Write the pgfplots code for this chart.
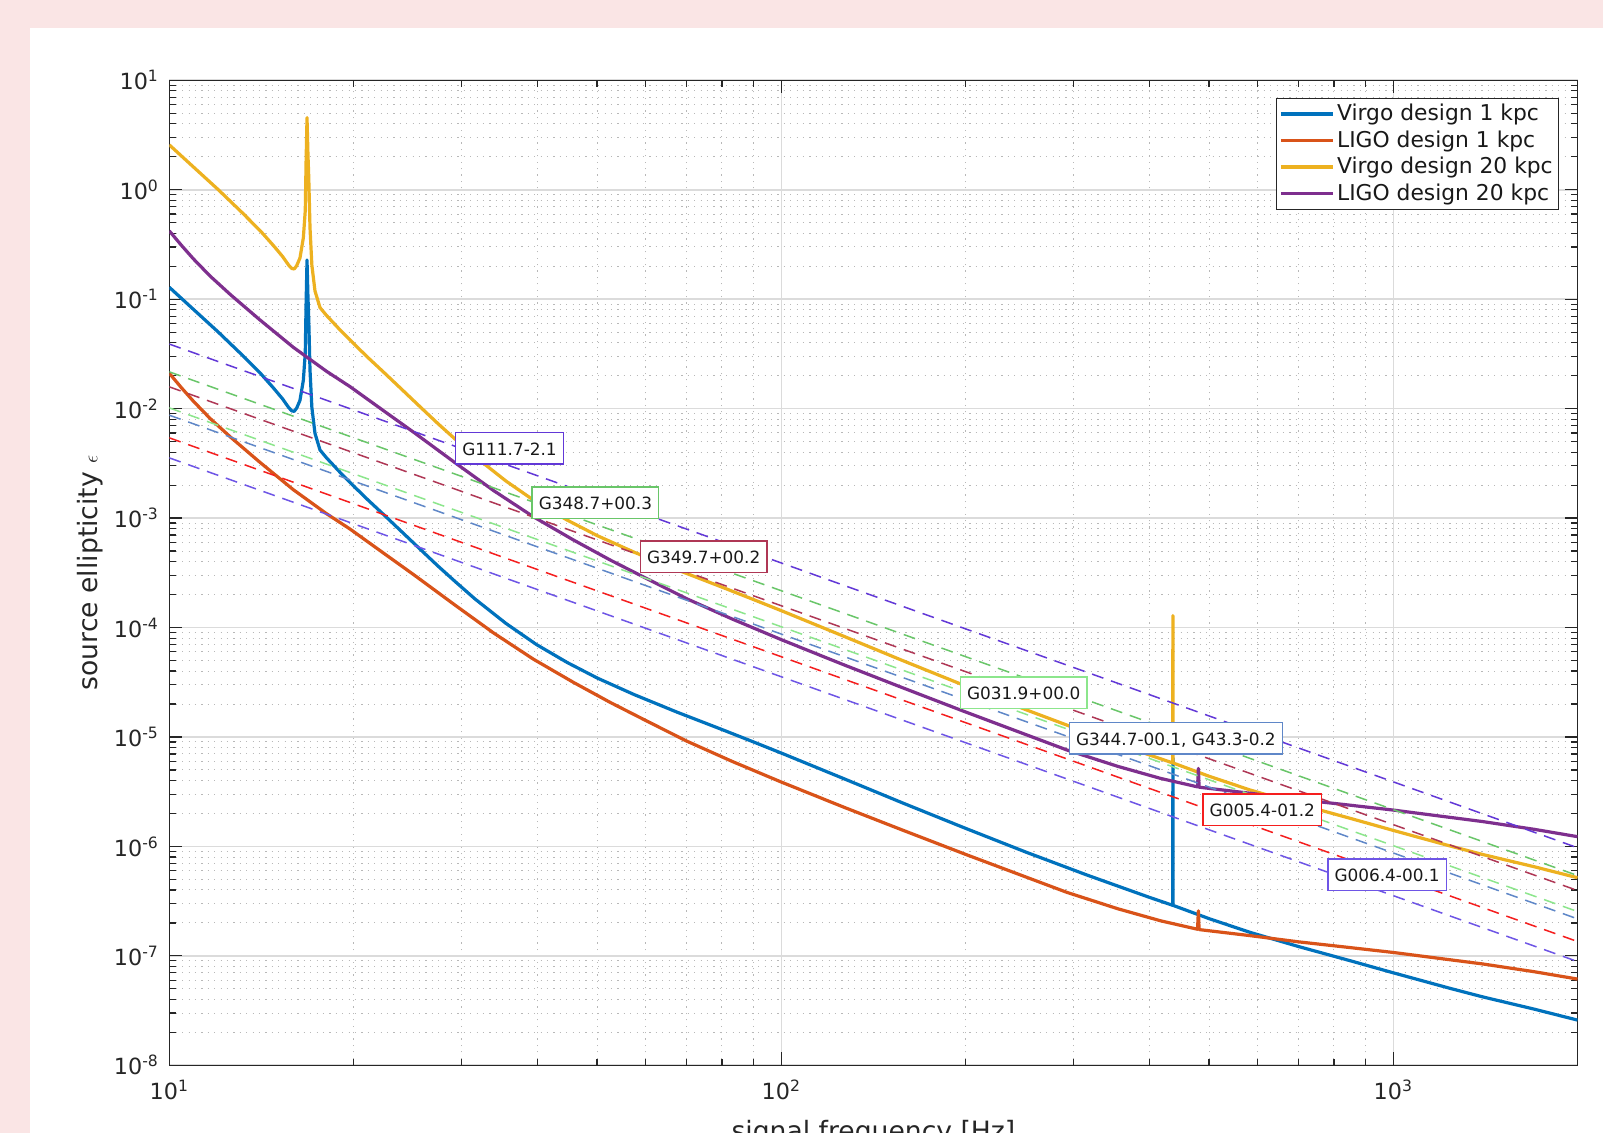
\documentclass[border=0pt]{standalone}
\usepackage{pgfplots}
\pgfplotsset{compat=1.18}
\usepackage{fontspec}
\setmainfont{DejaVu Sans}
\definecolor{bgpink}{RGB}{250,229,229}
\definecolor{mblue}{RGB}{0,114,189}
\definecolor{morange}{RGB}{217,83,25}
\definecolor{myellow}{RGB}{237,177,32}
\definecolor{mpurple}{RGB}{126,47,142}
\definecolor{dviolet}{RGB}{98,56,215}
\definecolor{dgreen}{RGB}{105,198,105}
\definecolor{dmaroon}{RGB}{175,55,85}
\definecolor{dlgreen}{RGB}{140,230,140}
\definecolor{dsteel}{RGB}{95,135,200}
\definecolor{dred}{RGB}{245,30,30}
\definecolor{dviolettwo}{RGB}{110,85,230}
\newcommand{\sups}[1]{\textsuperscript{#1}}
\tikzset{lbl/.style={fill=white, line width=0.75pt, font=\fontsize{8.45}{10}\selectfont,
  text height=7.65pt, text depth=0.8pt, inner xsep=3.3pt, inner ysep=3.7pt, text=black!90},
  dsh/.style={line width=0.75pt, dash pattern=on 6pt off 4pt}}
\begin{document}
\begin{tikzpicture}
\fill[bgpink] (0,0) rectangle (801.5pt,566.5pt);
\fill[white] (15pt,0) rectangle (801.5pt,552.5pt);
\begin{axis}[
  at={(84.65pt,33.85pt)}, anchor=south west,
  scale only axis, width=704.1pt, height=492.5pt,
  xmode=log, ymode=log,
  xmin=10, xmax=2000, ymin=1e-8, ymax=10,
  xtick={10,100,1000},
  xticklabels={10\sups{1},10\sups{2},10\sups{3}},
  minor xtick={20,30,40,50,60,70,80,90,200,300,400,500,600,700,800,900,2000},
  ytick={1e-8,1e-7,1e-6,1e-5,1e-4,1e-3,1e-2,1e-1,1,10},
  yticklabels={10\sups{-8},10\sups{-7},10\sups{-6},10\sups{-5},10\sups{-4},10\sups{-3},10\sups{-2},10\sups{-1},10\sups{0},10\sups{1}},
  minor ytick={2e-8,3e-8,4e-8,5e-8,6e-8,7e-8,8e-8,9e-8,
               2e-7,3e-7,4e-7,5e-7,6e-7,7e-7,8e-7,9e-7,
               2e-6,3e-6,4e-6,5e-6,6e-6,7e-6,8e-6,9e-6,
               2e-5,3e-5,4e-5,5e-5,6e-5,7e-5,8e-5,9e-5,
               2e-4,3e-4,4e-4,5e-4,6e-4,7e-4,8e-4,9e-4,
               2e-3,3e-3,4e-3,5e-3,6e-3,7e-3,8e-3,9e-3,
               2e-2,3e-2,4e-2,5e-2,6e-2,7e-2,8e-2,9e-2,
               2e-1,3e-1,4e-1,5e-1,6e-1,7e-1,8e-1,9e-1,
               2,3,4,5,6,7,8,9},
  grid=both,
  major grid style={black!14, line width=0.8pt},
  minor grid style={black!28, line width=0.5pt, dash pattern=on 0.6pt off 2.6pt},
  tick align=inside,
  major tick length=6.5pt, minor tick length=3.2pt,
  every tick/.style={black!85, line width=0.6pt},
  axis line style={black!85, line width=0.75pt},
  ticklabel style={font=\fontsize{11.15}{13}\selectfont, text=black!85},
  yticklabel style={inner sep=0pt, xshift=-5pt},
  xticklabel style={inner sep=0pt, yshift=-7.35pt},
  xlabel={signal frequency [Hz]},
  ylabel={source ellipticity {\fontsize{10}{10}\selectfont$\epsilon$}},
  label style={font=\fontsize{13.3}{15}\selectfont, text=black!85},
  xlabel style={at={(axis description cs:0.5,-0.05553)}, anchor=north, inner sep=0pt},
  ylabel style={at={(axis description cs:-0.05631,0.5)}, anchor=center, inner sep=0pt},
  legend style={at={(1,1)}, anchor=north east, xshift=-9.1pt, yshift=-8.7pt,
    draw=black!85, line width=0.6pt, fill=white,
    font=\fontsize{10.9}{12}\selectfont, text=black!90,
    inner xsep=1.5pt, inner ysep=1.5pt, row sep=0.43pt,
    nodes={inner xsep=1.5pt, inner ysep=1.5pt}},
  legend cell align=left,
  legend image code/.code={\draw[#1] (0pt,0pt) -- (25.8pt,0pt);},
]
% Virgo design 1 kpc
\addplot[mblue, line width=1.6pt, line join=round] coordinates {
(10,0.1285) (10.96,8.035e-2) (12.02,5.012e-2) (13.18,3.055e-2) (14.13,2.065e-2)
(14.79,1.549e-2) (15.31,1.230e-2) (15.67,1.023e-2) (15.85,9.550e-3) (16.0,9.441e-3)
(16.15,1.012e-2) (16.35,1.189e-2) (16.56,1.820e-2) (16.68,3.236e-2) (16.73,8.913e-2)
(16.79,0.2280) (16.85,0.1047) (16.9,6.457e-2) (16.98,2.254e-2) (17.1,1.023e-2)
(17.3,5.943e-3) (17.63,4.188e-3) (18.07,3.548e-3) (19.01,2.618e-3) (20.23,1.849e-3)
(21.13,1.459e-3) (22.4,1.076e-3) (24,7.464e-4) (25.7,5.188e-4) (27.5,3.631e-4)
(29.4,2.594e-4) (31.6,1.820e-4) (35.5,1.089e-4) (39.8,6.998e-5) (44.7,4.786e-5)
(50.1,3.443e-5) (57.5,2.438e-5) (67.6,1.683e-5) (79.4,1.189e-5) (89.1,9.226e-6)
(100,7.129e-6) (126,4.198e-6) (158.5,2.472e-6) (199.5,1.472e-6) (251,8.872e-7)
(316,5.470e-7) (398,3.451e-7) (436.0,2.897e-7) (436.4,6.43e-6) (436.8,2.891e-7)
(500,2.188e-7) (583,1.641e-7) (700,1.217e-7) (851,9.016e-8) (1000,6.998e-8)
(1240,5.035e-8) (1400,4.217e-8) (1700,3.258e-8) (2000,2.588e-8)};
\addlegendentry{Virgo design 1 kpc}
% LIGO design 1 kpc
\addplot[morange, line width=1.6pt, line join=round] coordinates {
(10,2.104e-2) (10.47,1.549e-2) (10.96,1.161e-2) (11.66,8.128e-3) (12.59,5.495e-3)
(14.06,3.236e-3) (15.94,1.820e-3) (18.07,1.096e-3) (19.74,7.943e-4) (22.39,4.786e-4)
(25.12,3.020e-4) (29.38,1.585e-4) (33.88,8.913e-5) (39.35,5.140e-5) (45.71,3.162e-5)
(52.48,2.075e-5) (60.26,1.400e-5) (70.07,9.162e-6) (83.18,5.970e-6) (100,3.873e-6)
(125.9,2.307e-6) (156.3,1.439e-6) (199.5,8.511e-7) (292.9,3.802e-7) (354.8,2.692e-7)
(416.9,2.089e-7) (478.8,1.750e-7) (480.3,2.582e-7) (481.6,1.738e-7) (583,1.531e-7)
(700,1.343e-7) (851,1.189e-7) (1000,1.074e-7) (1200,9.419e-8) (1400,8.433e-8)
(1700,7.161e-8) (2000,6.138e-8)};
\addlegendentry{LIGO design 1 kpc}
% Virgo design 20 kpc
\addplot[myellow, line width=1.6pt, line join=round] coordinates {
(10,2.570) (10.96,1.607) (12.02,1.0024) (13.18,0.611) (14.13,0.413)
(14.79,0.3098) (15.31,0.246) (15.67,0.2046) (15.85,0.191) (16.0,0.18882)
(16.15,0.2024) (16.35,0.2378) (16.56,0.364) (16.68,0.6472) (16.73,1.7826)
(16.79,4.56) (16.85,2.094) (16.9,1.2914) (16.98,0.4508) (17.1,0.2046)
(17.3,0.11886) (17.63,0.08376) (18.07,0.07096) (19.01,0.05236) (20.23,0.03698)
(21.13,0.02918) (22.4,0.02152) (24,0.014928) (25.7,0.010376) (27.5,7.262e-3)
(29.4,5.188e-3) (31.6,3.640e-3) (35.5,2.178e-3) (39.8,1.3996e-3) (44.7,9.572e-4)
(50.1,6.886e-4) (57.5,4.876e-4) (67.6,3.366e-4) (79.4,2.378e-4) (89.1,1.8452e-4)
(100,1.4258e-4) (126,8.396e-5) (158.5,4.944e-5) (199.5,2.944e-5) (251,1.7744e-5)
(316,1.094e-5) (398,6.902e-6) (436.0,5.794e-6) (436.4,1.286e-4) (436.8,5.782e-6)
(500,4.376e-6) (583,3.282e-6) (700,2.434e-6) (851,1.8032e-6) (1000,1.3996e-6)
(1240,1.007e-6) (1400,8.434e-7) (1700,6.516e-7) (2000,5.176e-7)};
\addlegendentry{Virgo design 20 kpc}
% LIGO design 20 kpc
\addplot[mpurple, line width=1.6pt, line join=round] coordinates {
(10,0.4208) (10.47,0.3098) (10.96,0.2322) (11.66,0.16256) (12.59,0.1099)
(14.06,0.06472) (15.94,0.0364) (18.07,0.02192) (19.74,0.015886) (22.39,9.572e-3)
(25.12,6.04e-3) (29.38,3.17e-3) (33.88,1.7826e-3) (39.35,1.028e-3) (45.71,6.324e-4)
(52.48,4.15e-4) (60.26,2.8e-4) (70.07,1.8324e-4) (83.18,1.194e-4) (100,7.746e-5)
(125.9,4.614e-5) (156.3,2.878e-5) (199.5,1.7022e-5) (292.9,7.604e-6) (354.8,5.384e-6)
(416.9,4.178e-6) (478.8,3.50e-6) (480.3,5.164e-6) (481.6,3.476e-6) (583,3.062e-6)
(700,2.686e-6) (851,2.378e-6) (1000,2.148e-6) (1200,1.8838e-6) (1400,1.6866e-6)
(1700,1.4322e-6) (2000,1.2276e-6)};
\addlegendentry{LIGO design 20 kpc}
% source lines
\addplot[dviolet, dsh, forget plot] coordinates {(10,3.890e-2) (2000,9.725e-7)};
\addplot[dgreen, dsh, forget plot] coordinates {(10,2.168e-2) (2000,5.42e-7)};
\addplot[dmaroon, dsh, forget plot] coordinates {(10,1.581e-2) (2000,3.953e-7)};
\addplot[dlgreen, dsh, forget plot] coordinates {(10,1.016e-2) (2000,2.540e-7)};
\addplot[dsteel, dsh, forget plot] coordinates {(10,8.710e-3) (2000,2.178e-7)};
\addplot[dred, dsh, forget plot] coordinates {(10,5.408e-3) (2000,1.352e-7)};
\addplot[dviolettwo, dsh, forget plot] coordinates {(10,3.548e-3) (2000,8.87e-8)};
\node[lbl, draw=dviolet] at (axis cs:35.97,4.345e-3) {G111.7-2.1};
\node[lbl, draw=dgreen] at (axis cs:49.7,1.377e-3) {G348.7+00.3};
\node[lbl, draw=dmaroon] at (axis cs:74.7,4.43e-4) {G349.7+00.2};
\node[lbl, draw=dlgreen] at (axis cs:248.9,2.535e-5) {G031.9+00.0};
\node[lbl, draw=dsteel] at (axis cs:441.3,9.73e-6) {G344.7-00.1, G43.3-0.2};
\node[lbl, draw=dred] at (axis cs:611,2.163e-6) {G005.4-01.2};
\node[lbl, draw=dviolettwo] at (axis cs:977,5.51e-7) {G006.4-00.1};
\end{axis}
\pgfresetboundingbox
\useasboundingbox (0,0) rectangle (801.5pt,566.5pt);
\end{tikzpicture}
\end{document}
